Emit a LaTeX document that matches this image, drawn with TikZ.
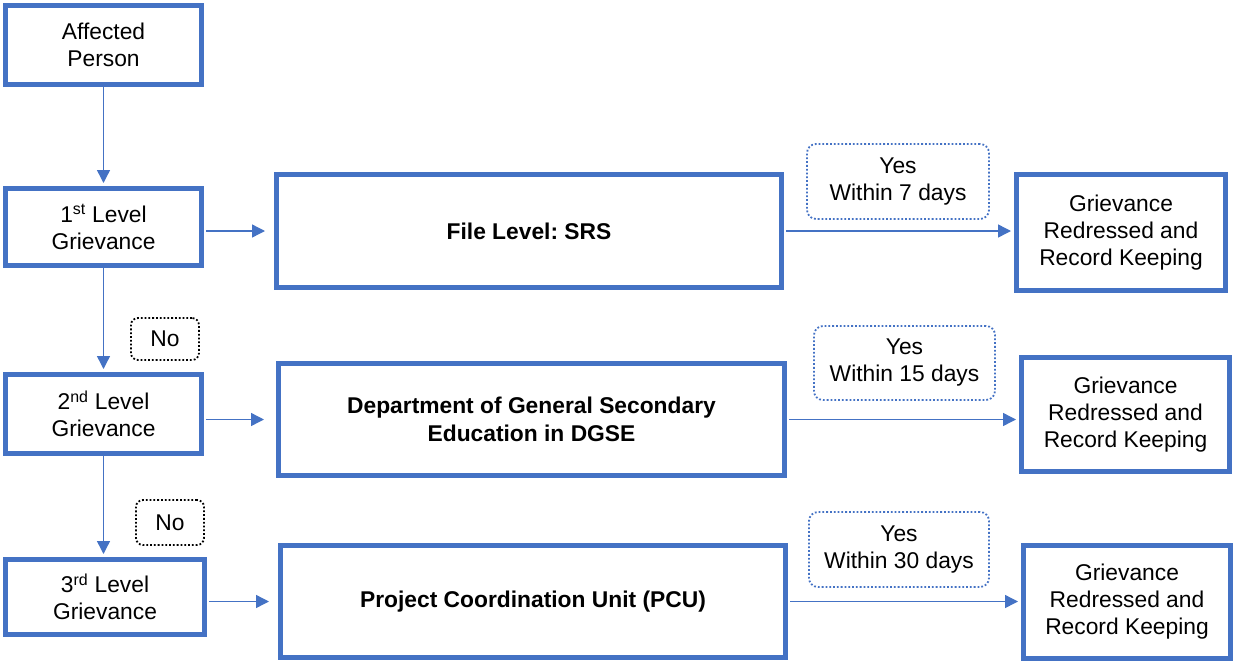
\documentclass[tikz,border=0pt]{standalone}
\usepackage{fontspec}
\setmainfont{Liberation Sans}
\frenchspacing
\usetikzlibrary{arrows.meta,calc}
\definecolor{bblue}{RGB}{68,114,196}
\begin{document}
\begin{tikzpicture}[x=1pt,y=-1pt,
  every node/.style={font=\fontsize{22.8}{27}\selectfont, align=center, inner sep=0pt},
  lbox/.style={draw=bblue, line width=5pt, fill=white},
  bf/.style={font=\fontsize{22.8}{28}\selectfont\bfseries},
  ybox/.style={draw=bblue, line width=1.8pt, dotted, rounded corners=9pt},
  nbox/.style={draw=black, line width=1.8pt, dotted, rounded corners=7pt},
  arr/.style={draw=bblue, line width=1.4pt, -{Triangle[length=13pt,width=13pt]}},
]
\useasboundingbox (0,0) rectangle (1234,664);
% left column
\node[lbox, minimum width=196, minimum height=79] (ap) at (103.5,45) {Affected\\Person};
\node[lbox, minimum width=196, minimum height=77] (l1) at (103.5,227) {1\textsuperscript{st} Level\\Grievance};
\node[lbox, minimum width=196, minimum height=79] (l2) at (103.5,414) {2\textsuperscript{nd} Level\\Grievance};
\node[lbox, minimum width=199, minimum height=75] (l3) at (105,597) {3\textsuperscript{rd} Level\\Grievance};
% middle
\node[lbox, bf, minimum width=505, minimum height=113] (f) at (529,231) {File Level: SRS};
\node[lbox, bf, minimum width=506, minimum height=112] (d) at (531.5,419.5) {Department of General Secondary\\Education in DGSE};
\node[lbox, bf, minimum width=505, minimum height=112] (p) at (533,601.5) {Project Coordination Unit (PCU)};
% right
\node[lbox, minimum width=209, minimum height=116] (r1) at (1121,232.5) {Grievance\\Redressed and\\Record Keeping};
\node[lbox, minimum width=208, minimum height=114] (r2) at (1125.5,414.5) {Grievance\\Redressed and\\Record Keeping};
\node[lbox, minimum width=207, minimum height=113] (r3) at (1127,602) {Grievance\\Redressed and\\Record Keeping};
% yes labels
\node[ybox, minimum width=182, minimum height=75] (y1) at (898,181.5) {Yes\\Within 7 days};
\node[ybox, minimum width=181, minimum height=74] (y2) at (904.5,363) {Yes\\Within 15 days};
\node[ybox, minimum width=180, minimum height=75] (y3) at (899,549.5) {Yes\\Within 30 days};
% no labels
\node[nbox, minimum width=68, minimum height=42] (n1) at (165,339) {No};
\node[nbox, minimum width=68, minimum height=45] (n2) at (170,522.5) {No};
% vertical arrows
\draw[arr, shorten >=3pt] (ap.south) -- (l1.north);
\draw[arr, shorten >=3pt] (l1.south) -- (l2.north);
\draw[arr, shorten >=3pt] (l2.south) -- (l2.south |- l3.north);
% horizontal arrows
\draw[arr, shorten <=2pt, shorten >=9pt] (l1.east |- f.west) -- (f.west);
\draw[arr, shorten <=2pt, shorten >=3pt] (f.east) -- (f.east -| r1.west);
\draw[arr, shorten <=2pt, shorten >=12pt] (l2.east |- d.west) -- (d.west);
\draw[arr, shorten <=2pt, shorten >=3pt] (d.east) -- (d.east -| r2.west);
\draw[arr, shorten <=2pt, shorten >=9pt] (l3.east |- p.west) -- (p.west);
\draw[arr, shorten <=2pt, shorten >=3pt] (p.east) -- (p.east -| r3.west);
\end{tikzpicture}
\end{document}
